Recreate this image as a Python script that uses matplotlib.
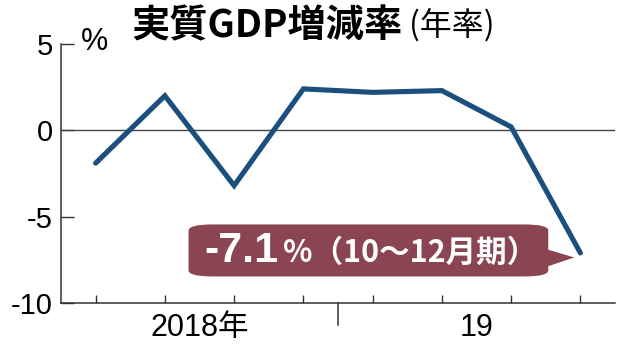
import matplotlib
matplotlib.use("Agg")
import matplotlib.pyplot as plt
from matplotlib import font_manager
from matplotlib.patches import FancyBboxPatch, Polygon
import matplotlib.transforms as mtransforms

names = {f.name for f in font_manager.fontManager.ttflist}
NARROW = "Liberation Sans Narrow" if "Liberation Sans Narrow" in names else "Liberation Sans"
CJK = "Noto Sans CJK JP"

# ---- data ----
quarters = ["2018Q1", "2018Q2", "2018Q3", "2018Q4", "2019Q1", "2019Q2", "2019Q3", "2019Q4"]
growth = [-1.9, 2.0, -3.2, 2.4, 2.2, 2.3, 0.2, -7.1]
year_labels = ["2018年", "19"]
yticks = [5, 0, -5, -10]
title_main = "実質GDP増減率"
title_sub = "(年率)"
callout_value = "-7.1"
callout_rest = "%（10～12月期）"

fig = plt.figure(figsize=(6.3, 3.52), dpi=100)
ax = fig.add_axes([61/630, 1-303/352, (615-61)/630, (303-44)/352])

x = list(range(len(quarters)))
ax.plot(x, growth, color="#1a4f7e", lw=3.7, solid_joinstyle="miter",
        solid_capstyle="round", zorder=3)
ax.axhline(0, color="#444444", lw=1.0, zorder=2)

ax.set_xlim(-0.5, len(quarters) - 0.5)
ax.set_ylim(-10, 5)

for s in ["top", "right"]:
    ax.spines[s].set_visible(False)
for s in ["left", "bottom"]:
    ax.spines[s].set_color("#333333")
    ax.spines[s].set_linewidth(1.1)

ax.set_yticks(yticks)
ax.set_yticklabels([str(v) for v in yticks], family=[NARROW, "DejaVu Sans"], fontsize=21)
ax.tick_params(axis="y", direction="in", length=9.5, width=1.0, color="#333333", pad=6)

ax.set_xticks(x)
ax.set_xticklabels([])
ax.tick_params(axis="x", which="major", direction="in", length=5.5, width=1.0, color="#333333")
ax.set_xticks([1.5, 5.5], minor=True)
ax.set_xticklabels(year_labels, minor=True, family=[NARROW, CJK], fontsize=22)
ax.tick_params(axis="x", which="minor", length=0, pad=7)

# year separator
trans = mtransforms.blended_transform_factory(ax.transData, ax.transAxes)
ax.plot([3.5, 3.5], [0, -22/259], transform=trans, color="#333333", lw=1.1, clip_on=False)

# % unit label
ax.text(95/630, 1-42/352, "%", transform=fig.transFigure, ha="center", va="center",
        family=[NARROW, "DejaVu Sans"], fontsize=22)

# title
t1 = fig.text(131/630, 1-26/352, title_main, family=[CJK], fontweight="bold",
              fontsize=27.5, ha="left", va="center")
fig.canvas.draw()
ax.annotate(title_sub, xy=(1, 0.5), xycoords=t1, xytext=(5, 0), textcoords="offset points",
            ha="left", va="center", family=[CJK], fontsize=23)

# callout box
def px(xp, yp):
    return ((xp - 95) / 69.3, (130 - yp) / 17.25)

bx0, by0 = px(188, 276)
bx1, by1 = px(548, 224)
box = FancyBboxPatch((bx0, by0), bx1 - bx0, by1 - by0,
                     boxstyle="round,pad=0,rounding_size=0.35",
                     fc="#8b4452", ec="none", zorder=4)
ax.add_patch(box)
tri = Polygon([px(547, 249), px(574, 257), px(547, 266)], closed=True,
              fc="#8b4452", ec="none", zorder=4)
ax.add_patch(tri)

tx, ty = px(204, 251)
tv = ax.text(tx, ty, callout_value, ha="left", va="center", color="white",
             fontweight="bold", fontsize=31, family=["Liberation Sans", "DejaVu Sans"], zorder=5)
ax.annotate(callout_rest, xy=(1, 0.5), xycoords=tv, xytext=(3, -1), textcoords="offset points",
            ha="left", va="center", color="white", fontweight="bold", fontsize=22,
            family=[CJK], zorder=5)

fig.savefig("out.png", dpi=100)
